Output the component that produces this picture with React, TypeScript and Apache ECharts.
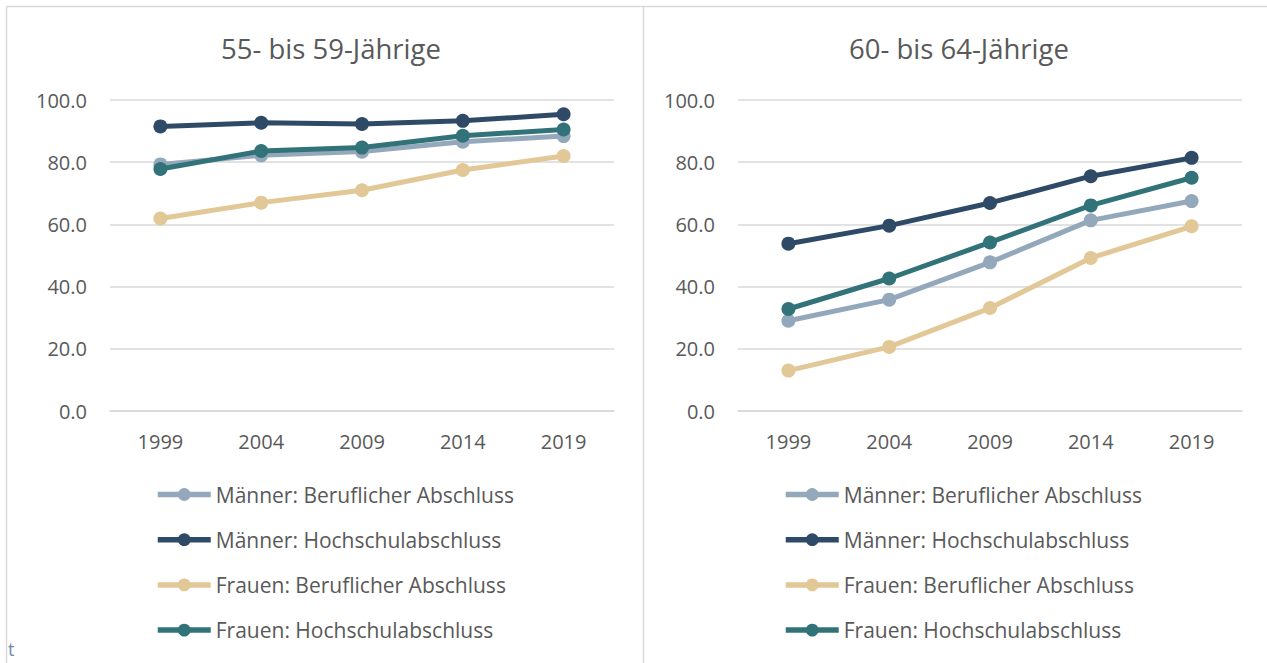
import React, { useEffect, useRef } from "react";
import * as echarts from "echarts";

const years = ["1999", "2004", "2009", "2014", "2019"];
const seriesNames = [
  "Männer: Beruflicher Abschluss",
  "Männer: Hochschulabschluss",
  "Frauen: Beruflicher Abschluss",
  "Frauen: Hochschulabschluss",
];
const colors = ["#94A8BC", "#2F4A66", "#E2C797", "#32737A"];

// 55- bis 59-Jährige
const left_mBeruf = [79.3, 82.2, 83.4, 86.6, 88.4];
const left_mHoch = [91.5, 92.7, 92.3, 93.3, 95.4];
const left_fBeruf = [61.9, 67.0, 71.0, 77.5, 82.0];
const left_fHoch = [77.8, 83.6, 84.7, 88.5, 90.5];

// 60- bis 64-Jährige
const right_mBeruf = [29.0, 35.8, 47.8, 61.3, 67.5];
const right_mHoch = [53.8, 59.6, 66.9, 75.5, 81.4];
const right_fBeruf = [13.0, 20.6, 33.1, 49.2, 59.4];
const right_fHoch = [32.8, 42.6, 54.2, 66.1, 75.0];

const yTicks = [0, 20, 40, 60, 80, 100];

const titles = ["55- bis 59-Jährige", "60- bis 64-Jährige"];

const FONT = "'Open Sans', 'Noto Sans', sans-serif";

export default function App() {
  const ref = useRef<HTMLDivElement>(null);
  useEffect(() => {
    document.body.style.margin = "0";
    const chart = echarts.init(ref.current!, null, { renderer: "svg" });
    const leftData = [left_mBeruf, left_mHoch, left_fBeruf, left_fHoch];
    const rightData = [right_mBeruf, right_mHoch, right_fBeruf, right_fHoch];

    const mkSeries = (data: number[][], idx: number) =>
      data.map((d, i) => ({
        type: "line",
        name: seriesNames[i],
        xAxisIndex: idx,
        yAxisIndex: idx,
        data: d,
        symbol: "circle",
        symbolSize: 14,
        lineStyle: { width: 5, color: colors[i] },
        itemStyle: { color: colors[i] },
        z: 2 + i,
      }));

    const grids = [
      { left: 110, width: 504, top: 100, bottom: 252 },
      { left: 738, width: 504, top: 100, bottom: 252 },
    ];

    const xAxis = [0, 1].map((i) => ({
      type: "category",
      gridIndex: i,
      data: years,
      axisLine: { show: true, lineStyle: { color: "#D9D9D9", width: 1.5 } },
      axisTick: { show: false },
      axisLabel: { color: "#595959", fontSize: 20, fontFamily: FONT, margin: 20 },
    }));

    const yAxis = [0, 1].map((i) => ({
      type: "value",
      gridIndex: i,
      min: yTicks[0],
      max: yTicks[yTicks.length - 1],
      interval: 20,
      axisLine: { show: false },
      axisTick: { show: false },
      splitLine: { lineStyle: { color: "#D9D9D9", width: 1.5 } },
      axisLabel: {
        color: "#595959",
        fontSize: 20,
        fontFamily: FONT,
        margin: 23,
        formatter: (v: number) => v.toFixed(1),
      },
    }));

    const legends = [
      { left: 155 },
      { left: 783 },
    ].map((l) => ({
      orient: "vertical",
      left: l.left,
      top: 484,
      padding: 0,
      itemWidth: 53,
      itemHeight: 16,
      itemGap: 24.2,
      data: seriesNames,
      lineStyle: { width: 5.5 },
      textStyle: { color: "#595959", fontSize: 21, fontFamily: FONT },
      selectedMode: false,
    }));

    chart.setOption({
      animation: false,
      backgroundColor: "#FFFFFF",
      title: [
        { text: titles[0], left: 326, top: 29, textAlign: "center",
          textStyle: { color: "#595959", fontSize: 27.5, fontWeight: "normal", fontFamily: FONT } },
        { text: titles[1], left: 954, top: 29, textAlign: "center",
          textStyle: { color: "#595959", fontSize: 27.5, fontWeight: "normal", fontFamily: FONT } },
      ],
      grid: grids,
      xAxis,
      yAxis,
      legend: legends,
      series: [...mkSeries(leftData, 0), ...mkSeries(rightData, 1)],
      graphic: [
        { type: "line", shape: { x1: 6.5, y1: 6.5, x2: 1267, y2: 6.5 }, style: { stroke: "#D9D9D9", lineWidth: 1.5 } },
        { type: "line", shape: { x1: 6.5, y1: 6.5, x2: 6.5, y2: 663 }, style: { stroke: "#D9D9D9", lineWidth: 1.5 } },
        { type: "line", shape: { x1: 643.5, y1: 6.5, x2: 643.5, y2: 663 }, style: { stroke: "#D9D9D9", lineWidth: 1.5 } },
        { type: "text", left: 8, top: 640, style: { text: "t", fill: "#6F8BAA", fontSize: 18, fontFamily: FONT } },
      ],
    });
    return () => chart.dispose();
  }, []);
  return <div ref={ref} style={{ width: 1267, height: 663 }} />;
}
